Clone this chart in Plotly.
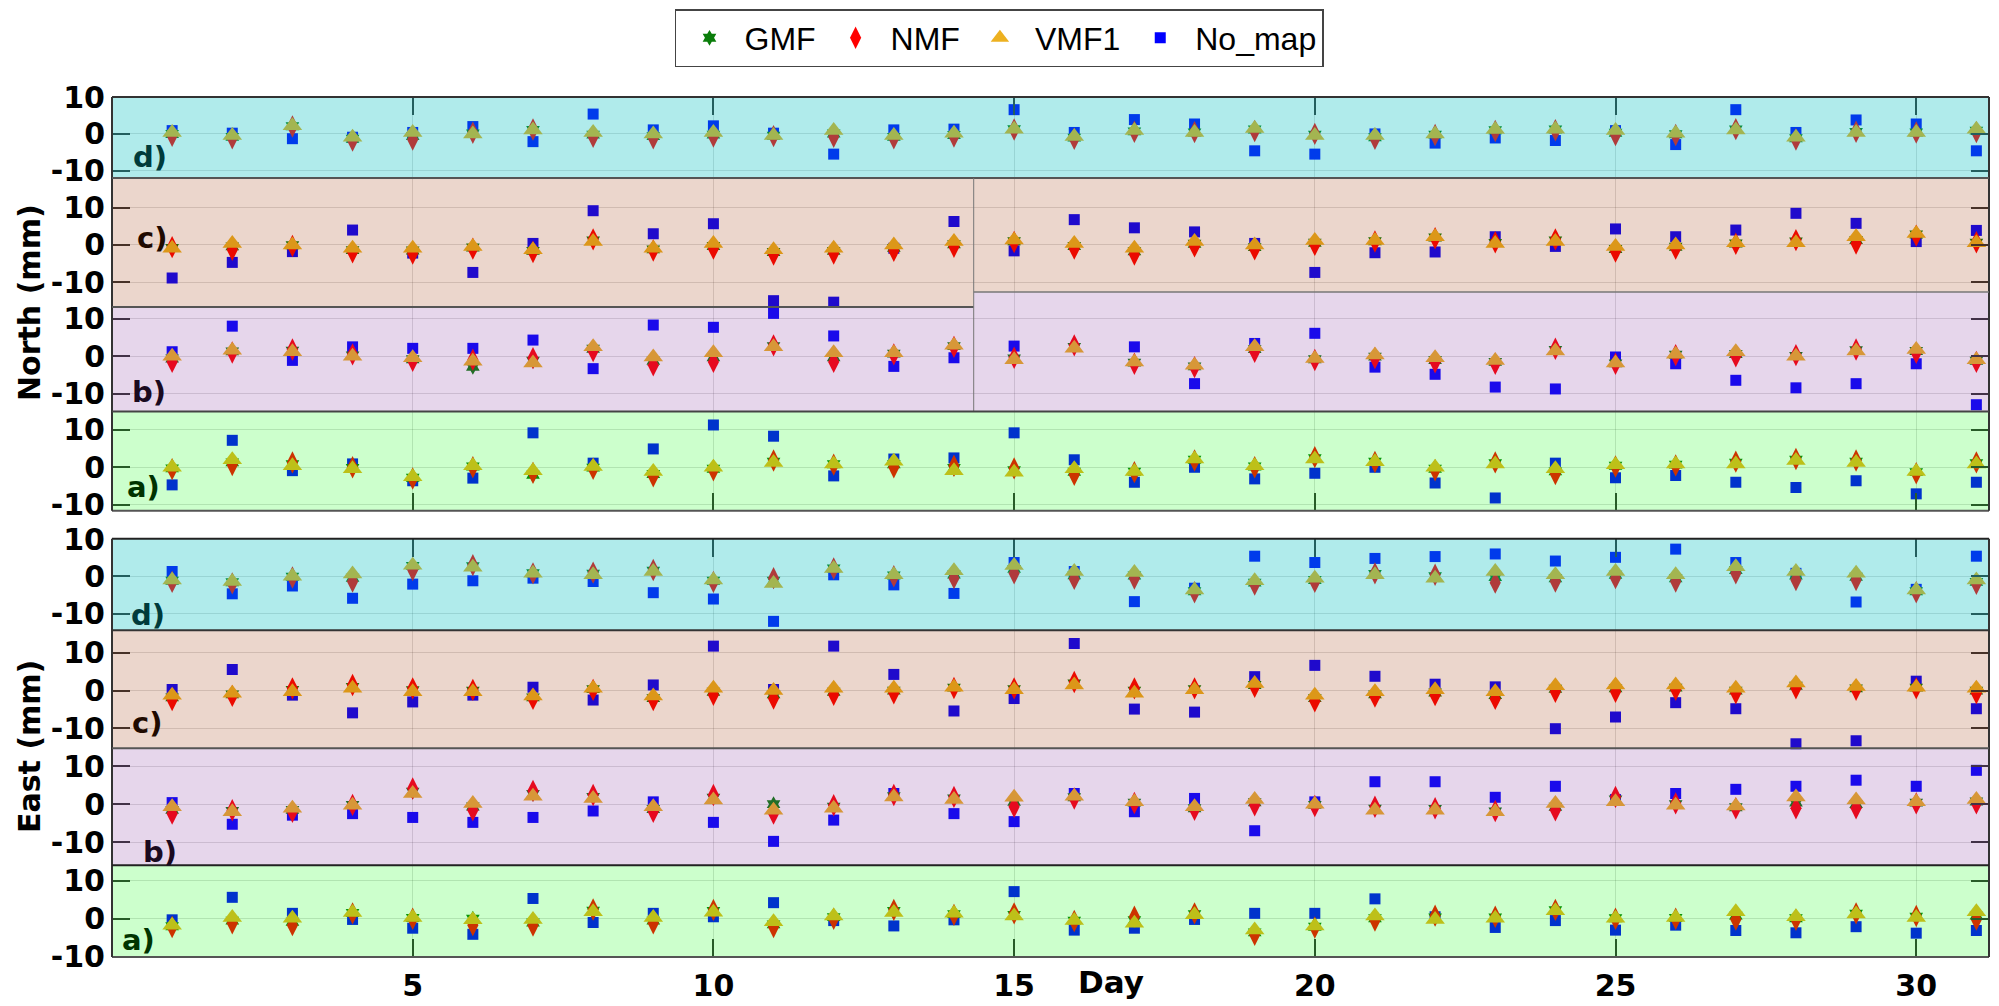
import plotly.graph_objects as go

# ---------------------------------------------------------------------------
# Daily position residuals (mm) for 31 days, four tropospheric mapping options
# ---------------------------------------------------------------------------
days = list(range(1, 32))
series_names = ["GMF", "NMF", "VMF1", "No_map"]
panel_tags = ["d)", "c)", "b)", "a)"]
ytick_values = [-10, 0, 10]
ytick_labels = ["-10", "0", "10"]
xtick_values = [5, 10, 15, 20, 25, 30]
xtick_labels = ["5", "10", "15", "20", "25", "30"]

# ---- North component ----
north_d_gmf = [0.0, -0.8, 2.1, -1.3, -0.6, 0.1, 1.1, -0.2, -0.6, -0.2, -0.5, 0.1, -0.8, -0.3, 1.3, -1.0,
               0.7, 0.4, 1.2, -0.2, -0.9, -0.2, 1.0, 1.2, 0.3, -0.1, 1.2, -1.2, 0.5, 0.4, 0.9]
north_d_nmf = [-0.5, -1.2, 2.0, -1.8, -1.5, 0.3, 1.2, -0.8, -1.2, -0.7, -0.6, -0.8, -1.2, -0.7, 1.2, -1.3,
               0.6, 0.5, 0.8, 0.0, -1.3, -0.3, 0.8, 1.0, -0.3, -0.3, 1.3, -1.5, 0.6, 0.4, 0.5]
north_d_vmf1 = [0.4, -0.4, 2.2, -0.9, 0.4, 0.0, 1.1, 0.4, 0.0, 0.4, -0.4, 0.9, -0.4, 0.2, 1.3, -0.7,
                0.9, 0.4, 1.5, -0.4, -0.4, 0.0, 1.2, 1.3, 0.9, 0.2, 1.1, -0.9, 0.4, 0.4, 1.3]
north_d_nomap = [0.9, 0.2, -1.3, -0.9, 0.4, 2.0, -2.1, 5.4, 1.1, 2.2, 0.2, -5.5, 1.1, 1.3, 6.6, 0.4,
                 3.9, 2.7, -4.6, -5.5, 0.0, -2.5, -1.1, -1.8, 0.9, -2.9, 6.6, 0.4, 3.8, 2.7, -4.6]

north_c_gmf = [-0.8, -0.4, -0.1, -1.4, -1.5, -0.7, -1.6, 1.2, -1.2, -0.3, -1.9, -1.6, -0.8, 0.2, 1.0, -0.3,
               -1.7, 0.3, -0.6, 0.6, 1.0, 2.0, 0.5, 1.2, -1.1, -0.5, 0.4, 0.9, 1.3, 2.8, 0.6]
north_c_nmf = [-0.6, -1.3, -0.3, -2.0, -2.3, -1.0, -1.9, 1.5, -1.5, -1.0, -2.6, -2.3, -1.6, -0.5, 0.8, -1.0,
               -2.6, -0.4, -1.2, 0.0, 0.9, 1.8, 0.7, 1.5, -1.8, -1.0, 0.3, 1.3, 0.4, 2.5, 0.7]
north_c_vmf1 = [-0.9, 0.4, 0.0, -0.9, -0.9, -0.4, -1.3, 0.9, -0.9, 0.4, -1.3, -0.9, 0.0, 0.9, 1.3, 0.4,
                -0.9, 0.9, 0.0, 1.2, 1.2, 2.2, 0.4, 0.9, -0.4, 0.0, 0.6, 0.6, 2.2, 3.1, 0.6]
north_c_nomap = [-8.9, -4.7, -1.8, 4.0, -2.2, -7.4, 0.4, 9.2, 3.0, 5.7, -15.0, -15.4, -0.9, 6.3, -1.6, 6.8,
                 4.6, 3.5, 0.4, -7.4, -2.1, -1.9, 2.2, -0.4, 4.3, 2.2, 4.0, 8.5, 5.8, 0.9, 3.9]

north_b_gmf = [-0.6, 1.3, 1.5, 0.2, -0.8, -2.8, -1.2, 2.0, -1.2, -0.3, 2.7, -0.3, 0.7, 2.7, -0.6, 2.5,
               -1.7, -2.7, 1.9, -0.8, -0.1, -1.0, -1.5, 1.7, -1.9, 0.4, 0.6, 0.1, 1.6, 1.4, -1.2]
north_b_nmf = [-1.5, 1.0, 1.8, 0.5, -1.2, -0.9, -0.5, 1.4, -2.4, -1.5, 2.9, -1.5, 0.5, 2.5, -0.4, 2.9,
               -2.0, -2.9, 1.2, -1.0, -0.5, -1.6, -2.0, 2.0, -2.0, 0.3, 0.0, 0.3, 1.8, 0.9, -1.5]
north_b_vmf1 = [0.0, 1.6, 1.2, 0.0, -0.4, -1.3, -1.8, 2.5, -0.2, 0.9, 2.5, 0.9, 0.9, 2.9, -0.9, 2.1,
                -1.5, -2.4, 2.5, -0.6, 0.3, -0.4, -1.1, 1.4, -1.8, 0.5, 1.2, 0.0, 1.4, 1.8, -0.9]
north_b_nomap = [1.2, 8.0, -1.1, 2.5, 2.1, 2.1, 4.3, -3.3, 8.3, 7.7, 11.4, 5.4, -2.7, -0.4, 2.7, 15.1,
                 2.5, -7.3, 3.4, 6.1, -2.9, -4.8, -8.2, -8.7, -0.2, -2.0, -6.4, -8.4, -7.3, -2.0, -12.9]

north_a_gmf = [-0.3, 1.3, 0.8, -0.2, -2.8, 0.2, -2.0, -0.1, -1.8, -0.4, 1.5, 0.8, 0.8, -0.2, -0.8, -1.2,
               -1.2, 2.0, 0.2, 2.4, 1.5, -0.4, 1.1, -1.1, 0.4, 0.7, 1.2, 2.0, 1.5, -1.3, 1.1]
north_a_nmf = [-0.5, 0.6, 1.3, 0.0, -3.0, 0.0, -1.5, -0.4, -2.4, -0.8, 1.8, 0.7, 0.0, 0.4, -0.3, -2.0,
               -1.3, 1.8, 0.0, 2.7, 1.4, -0.8, 1.3, -1.8, 0.2, 0.5, 1.5, 2.2, 1.8, -1.6, 1.3]
north_a_vmf1 = [0.0, 2.0, 0.4, -0.4, -2.5, 0.4, -0.9, 0.2, -1.1, 0.0, 1.3, 0.9, 1.6, -0.9, -1.3, -0.4,
                -1.1, 2.2, 0.4, 2.2, 1.5, 0.0, 0.9, -0.4, 0.7, 0.9, 0.9, 1.8, 1.3, -1.1, 0.9]
north_a_nomap = [-4.7, 7.2, -0.9, 0.9, -3.6, -2.9, 9.2, 1.1, 4.9, 11.3, 8.3, -2.3, 2.2, 2.5, 9.2, 2.0,
                 -4.0, 0.0, -3.1, -1.6, 0.0, -4.2, -8.2, 1.1, -2.8, -2.2, -4.0, -5.4, -3.6, -7.1, -4.0]

# ---- East component ----
east_d_gmf = [-1.2, -1.6, -0.1, -0.4, 2.8, 2.7, 0.8, 0.7, 1.5, -1.2, -1.2, 2.1, 0.2, 0.5, 2.0, 0.3,
              0.2, -4.0, -1.7, -1.0, 0.6, 0.0, -0.2, -0.5, 0.4, -0.5, 1.7, 0.2, -0.1, -4.0, -1.5]
east_d_nmf = [-1.5, -1.9, -0.3, -1.4, 1.7, 3.0, 0.8, 1.0, 1.7, -1.5, -0.5, 2.1, 0.0, -0.5, 0.8, -0.7,
              -0.6, -4.3, -2.2, -1.5, 0.8, 0.4, -1.7, -1.4, -0.5, -1.4, 0.8, -1.0, -1.0, -4.3, -2.0]
east_d_vmf1 = [-1.0, -1.4, 0.0, 0.6, 3.0, 2.4, 0.8, 0.4, 1.3, -1.0, -1.9, 2.1, 0.4, 1.5, 2.9, 1.3,
               1.0, -3.7, -1.2, -0.5, 0.4, -0.5, 1.3, 0.4, 1.3, 0.4, 2.6, 1.3, 0.8, -3.7, -1.0]
east_d_nomap = [1.3, -4.7, -2.6, -5.9, -2.1, -1.2, -0.5, -1.4, -4.4, -6.1, -12.1, 0.4, -2.3, -4.6, 3.7, 1.3,
                -6.8, -3.2, 5.4, 3.7, 4.8, 5.3, 6.0, 4.1, 5.1, 7.3, 3.7, 0.8, -6.9, -3.5, 5.4]

east_c_gmf = [-1.8, -1.0, 0.2, 1.0, 0.1, 0.0, -1.8, 0.4, -2.0, -0.3, -1.0, -0.3, 0.0, 0.8, 0.4, 1.9,
              0.0, 0.4, 1.5, -2.0, -1.0, -0.5, -1.2, 0.5, 0.6, 0.8, 0.0, 1.3, 0.6, 0.8, 0.0]
east_c_nmf = [-2.5, -1.4, 0.6, 1.5, 0.6, 0.2, -2.2, 0.2, -2.5, -1.1, -2.1, -1.1, -0.7, 0.7, 0.6, 2.3,
              0.6, 0.6, 1.0, -2.8, -1.6, -1.2, -2.2, -0.3, -0.3, 0.2, -0.7, 0.6, 0.2, 0.6, -0.7]
east_c_vmf1 = [-1.2, -0.7, -0.3, 0.6, -0.3, -0.3, -1.4, 0.6, -1.4, 0.6, 0.0, 0.6, 0.6, 0.9, 0.2, 1.5,
               -0.7, 0.2, 1.9, -1.2, -0.3, 0.2, -0.3, 1.3, 1.5, 1.5, 0.6, 2.0, 1.1, 0.9, 0.6]
east_c_nomap = [0.3, 5.6, -1.2, -5.9, -3.0, -1.2, 0.9, -2.5, 1.5, 11.8, 0.3, 11.8, 4.3, -5.4, -2.1, 12.5,
                -4.9, -5.7, 3.7, 6.7, 3.8, 1.7, 1.0, -10.1, -7.0, -3.2, -4.8, -14.1, -13.3, 2.5, -4.8]

east_b_gmf = [-1.5, -1.8, -1.5, -0.2, 3.3, -0.6, 2.7, 1.9, -1.3, 1.7, 0.0, -0.7, 2.1, 1.5, 0.6, 1.8,
              0.4, -1.1, 0.5, -0.2, -1.2, -1.3, -1.9, -0.7, 1.2, 0.0, -0.8, 0.4, 0.0, 0.4, 0.7]
east_b_nmf = [-2.5, -1.6, -2.0, -0.2, 4.1, -1.6, 3.5, 2.4, -2.0, 2.4, -2.5, -0.3, 2.4, 1.9, -0.7, 1.5,
              0.3, -1.5, -0.3, -0.5, -0.7, -1.1, -1.8, -1.6, 1.9, 0.2, -1.1, -1.1, -1.1, 0.2, 0.2]
east_b_vmf1 = [-0.7, -2.0, -1.1, -0.3, 2.8, 0.2, 2.1, 1.5, -0.7, 1.1, -1.6, -1.1, 1.9, 1.2, 1.8, 2.1,
               0.6, -0.7, 1.2, 0.0, -1.6, -1.6, -2.0, 0.2, 0.6, -0.3, -0.5, 1.9, 1.1, 0.6, 1.2]
east_b_nomap = [0.4, -5.3, -2.9, -2.5, -3.5, -4.8, -3.5, -1.8, 0.6, -4.8, -9.8, -4.2, 2.8, -2.5, -4.6, 2.8,
                -2.0, 1.5, -7.0, 0.6, 5.9, 5.9, 1.8, 4.7, 1.2, 2.8, 3.9, 4.7, 6.3, 4.7, 8.9]

east_a_gmf = [-2.0, -0.5, -0.8, 1.5, 0.2, 0.0, -1.0, 2.1, -0.5, 2.0, -1.5, 0.4, 2.0, 1.2, 1.0, -0.5,
              -0.4, 1.2, -3.6, -2.1, 0.1, 0.3, 0.3, 2.2, 0.1, 0.2, 0.8, 0.1, 1.3, 0.5, 0.8]
east_a_nmf = [-2.2, -1.2, -1.7, 1.4, 0.0, -1.7, -1.8, 2.4, -1.2, 2.3, -2.2, 0.0, 2.3, 1.0, 1.4, -0.6,
              0.5, 1.4, -4.2, -2.3, -0.5, 0.8, 0.5, 2.3, 0.0, 0.0, -0.2, -0.3, 1.4, 0.7, -0.2]
east_a_vmf1 = [-1.7, 0.3, 0.1, 1.6, 0.3, -0.3, -0.2, 1.8, 0.3, 1.7, -0.8, 0.7, 1.6, 1.4, 0.7, -0.5,
               -1.2, 1.0, -3.0, -1.9, 0.7, -0.2, 0.1, 2.1, 0.1, 0.3, 1.8, 0.5, 1.2, 0.3, 1.8]
east_a_nomap = [-0.3, 5.6, 1.4, -0.2, -2.5, -4.1, 5.3, -1.0, 1.4, 0.5, 4.2, -0.5, -1.9, -0.3, 7.1, -3.0,
                -2.5, -0.2, 1.4, 1.4, 5.2, 0.5, -2.3, -0.5, -3.0, -1.7, -3.1, -3.7, -2.1, -3.8, -3.1]

# panels from top to bottom: (series by name, y-range)
panels = [
    ({"GMF": north_d_gmf, "NMF": north_d_nmf, "VMF1": north_d_vmf1, "No_map": north_d_nomap}, [-12.0, 10.05]),
    ({"GMF": north_c_gmf, "NMF": north_c_nmf, "VMF1": north_c_vmf1, "No_map": north_c_nomap}, [-16.7, 18.0]),
    ({"GMF": north_b_gmf, "NMF": north_b_nmf, "VMF1": north_b_vmf1, "No_map": north_b_nomap}, [-14.7, 13.1]),
    ({"GMF": north_a_gmf, "NMF": north_a_nmf, "VMF1": north_a_vmf1, "No_map": north_a_nomap}, [-11.6, 14.9]),
    ({"GMF": east_d_gmf, "NMF": east_d_nmf, "VMF1": east_d_vmf1, "No_map": east_d_nomap}, [-14.5, 10.1]),
    ({"GMF": east_c_gmf, "NMF": east_c_nmf, "VMF1": east_c_vmf1, "No_map": east_c_nomap}, [-15.3, 16.0]),
    ({"GMF": east_b_gmf, "NMF": east_b_nmf, "VMF1": east_b_vmf1, "No_map": east_b_nomap}, [-16.1, 14.7]),
    ({"GMF": east_a_gmf, "NMF": east_a_nmf, "VMF1": east_a_vmf1, "No_map": east_a_nomap}, [-10.05, 14.0]),
]

# ---------------------------------------------------------------------------
# Geometry (pixels of the 1999 x 1006 canvas)
# ---------------------------------------------------------------------------
W, H = 1999, 1006
LEFT, RIGHT, TOP, BOTTOM = 112, 1989, 97, 957
PW, PH = RIGHT - LEFT, BOTTOM - TOP


def py(y_px):
    return (BOTTOM - y_px) / PH


def px(x_px):
    return (x_px - LEFT) / PW


panel_edges_px = [(97, 178), (178, 307), (307, 411.5), (411.5, 510.7),
                  (538.7, 630.3), (630.3, 748.3), (748.3, 865.3), (865.3, 957)]
domains = [[py(b), py(t)] for t, b in panel_edges_px]

styles = {
    "GMF": dict(symbol="hexagram", color="#0a7d0a", size=12),
    "NMF": dict(symbol="diamond-tall", color="#ff0000", size=16),
    "VMF1": dict(symbol="triangle-up", color="#EDB120", size=17),
    "No_map": dict(symbol="square", color="#0000ff", size=11),
}
draw_order = ["No_map", "GMF", "NMF", "VMF1"]
rank = {"GMF": 1, "NMF": 2, "VMF1": 3, "No_map": 4}

fig = go.Figure()
tick_font = dict(family="DejaVu Sans", size=30, color="black", weight="bold")

for i, (series, yr) in enumerate(panels):
    n = i + 1
    xa = "x" if n == 1 else f"x{n}"
    ya = "y" if n == 1 else f"y{n}"
    for name in draw_order:
        st = styles[name]
        fig.add_trace(go.Scatter(
            x=days, y=series[name], mode="markers", name=name,
            legendgroup=name, showlegend=(n == 1), legendrank=rank[name],
            marker=dict(symbol=st["symbol"], color=st["color"], size=st["size"], line=dict(width=0)),
            xaxis=xa, yaxis=ya, cliponaxis=False,
        ))

    is_top = n in (1, 5)
    is_bottom = n in (4, 8)
    xkey = "xaxis" if n == 1 else f"xaxis{n}"
    ykey = "yaxis" if n == 1 else f"yaxis{n}"
    fig.layout[xkey] = dict(
        domain=[0, 1], anchor=ya, range=[0, 31.21],
        tickvals=xtick_values, ticktext=xtick_labels,
        showgrid=True, gridcolor="rgba(0,0,0,0.13)", gridwidth=1, zeroline=False,
        showline=False,
        ticks="inside" if (is_top or is_bottom) else "",
        ticklen=18, tickwidth=1.5, tickcolor="#333333",
        side="top" if is_top else "bottom",
        showticklabels=(n == 8), tickfont=tick_font, ticklabelstandoff=8,
        automargin=False,
    )
    fig.layout[ykey] = dict(
        domain=domains[i], anchor=xa, range=yr,
        tickvals=ytick_values, ticktext=ytick_labels,
        showgrid=True, gridcolor="rgba(0,0,0,0.13)", gridwidth=1, zeroline=False,
        showline=False, ticks="inside", ticklen=18, tickwidth=1.5, tickcolor="#333333",
        mirror="ticks", tickfont=tick_font, ticklabelstandoff=6, automargin=False,
    )

# ---------------------------------------------------------------------------
# Tinted panel backgrounds, laid over the markers
# ---------------------------------------------------------------------------
CYAN = "rgb(0,191,191)"
PEACH = "rgb(153,51,0)"
LAVENDER = "rgb(128,51,153)"
GREEN = "rgb(0,255,0)"
tint = {CYAN: 0.31, PEACH: 0.2, LAVENDER: 0.2, GREEN: 0.2}

step_x = px(973.7)
step_y = py(292)
boxes = [
    (0, 1, domains[0][0], domains[0][1], CYAN),
    (0, step_x, domains[1][0], domains[1][1], PEACH),
    (step_x, 1, step_y, domains[1][1], PEACH),
    (0, step_x, domains[2][0], domains[2][1], LAVENDER),
    (step_x, 1, domains[2][0], step_y, LAVENDER),
    (0, 1, domains[3][0], domains[3][1], GREEN),
    (0, 1, domains[4][0], domains[4][1], CYAN),
    (0, 1, domains[5][0], domains[5][1], PEACH),
    (0, 1, domains[6][0], domains[6][1], LAVENDER),
    (0, 1, domains[7][0], domains[7][1], GREEN),
]
for x0, x1, y0, y1, col in boxes:
    fig.add_shape(type="rect", xref="paper", yref="paper", x0=x0, x1=x1, y0=y0, y1=y1,
                  fillcolor=col, opacity=tint[col], line=dict(width=0), layer="above")

# panel frames
frame_lines = [
    # north block
    (0, 1, domains[0][1], domains[0][1], "#333333", 2),
    (0, 1, domains[3][0], domains[3][0], "#555555", 2),
    (0, 0, domains[3][0], domains[0][1], "#333333", 2),
    (1, 1, domains[3][0], domains[0][1], "#333333", 2),
    (0, 1, domains[0][0], domains[0][0], "#555555", 2),
    (0, step_x, domains[1][0], domains[1][0], "#555555", 2),
    (step_x, step_x, domains[2][0], domains[1][1], "#777777", 1),
    (step_x, 1, step_y, step_y, "#777777", 1.5),
    (0, 1, domains[2][0], domains[2][0], "#444444", 2),
    # east block
    (0, 1, domains[4][1], domains[4][1], "#222222", 2),
    (0, 1, domains[7][0], domains[7][0], "#555555", 2),
    (0, 0, domains[7][0], domains[4][1], "#333333", 2),
    (1, 1, domains[7][0], domains[4][1], "#333333", 2),
    (0, 1, domains[4][0], domains[4][0], "#333333", 2),
    (0, 1, domains[5][0], domains[5][0], "#555555", 2),
    (0, 1, domains[6][0], domains[6][0], "#222222", 2),
]
for x0, x1, y0, y1, col, w in frame_lines:
    fig.add_shape(type="line", xref="paper", yref="paper", x0=x0, x1=x1, y0=y0, y1=y1,
                  line=dict(color=col, width=w), layer="above")

# ---------------------------------------------------------------------------
# Text: panel tags, axis titles
# ---------------------------------------------------------------------------
tag_pos = [(150, 157), (152, 238), (149, 392), (143, 487),
           (148, 615), (147, 723), (160, 852), (138, 940)]
tag_colors = ["#003b3b", "#1f0a00", "#1a0a1f", "#003300",
              "#003b3b", "#1f0a00", "#1a0a1f", "#003300"]
for i, ((tx, ty), col) in enumerate(zip(tag_pos, tag_colors)):
    fig.add_annotation(text=panel_tags[i % 4], xref="paper", yref="paper", x=px(tx), y=py(ty),
                       xanchor="center", yanchor="middle", showarrow=False,
                       font=dict(family="DejaVu Sans", size=29, color=col, weight="bold"))

title_font = dict(family="DejaVu Sans", size=30, color="black", weight="bold")
fig.add_annotation(text="North (mm)", xref="paper", yref="paper", x=px(29), y=py(303),
                   textangle=-90, showarrow=False, xanchor="center", yanchor="middle", font=title_font)
fig.add_annotation(text="East (mm)", xref="paper", yref="paper", x=px(29), y=py(747),
                   textangle=-90, showarrow=False, xanchor="center", yanchor="middle", font=title_font)
fig.add_annotation(text="Day", xref="paper", yref="paper", x=px(1111), y=py(982),
                   showarrow=False, xanchor="center", yanchor="middle",
                   font=dict(family="DejaVu Sans", size=31, color="black", weight="bold"))

fig.update_layout(
    width=W, height=H,
    margin=dict(l=LEFT, r=W - RIGHT, t=TOP, b=H - BOTTOM, autoexpand=False),
    plot_bgcolor="white", paper_bgcolor="white",
    showlegend=True,
    legend=dict(orientation="h", xref="container", yref="container",
                x=999 / W, xanchor="center", y=1 - 9 / H, yanchor="top",
                bgcolor="white", bordercolor="#444444", borderwidth=1.5,
                font=dict(family="Liberation Sans", size=32, color="black"),
                itemwidth=60, tracegroupgap=0),
)

fig.write_html("out.html")
